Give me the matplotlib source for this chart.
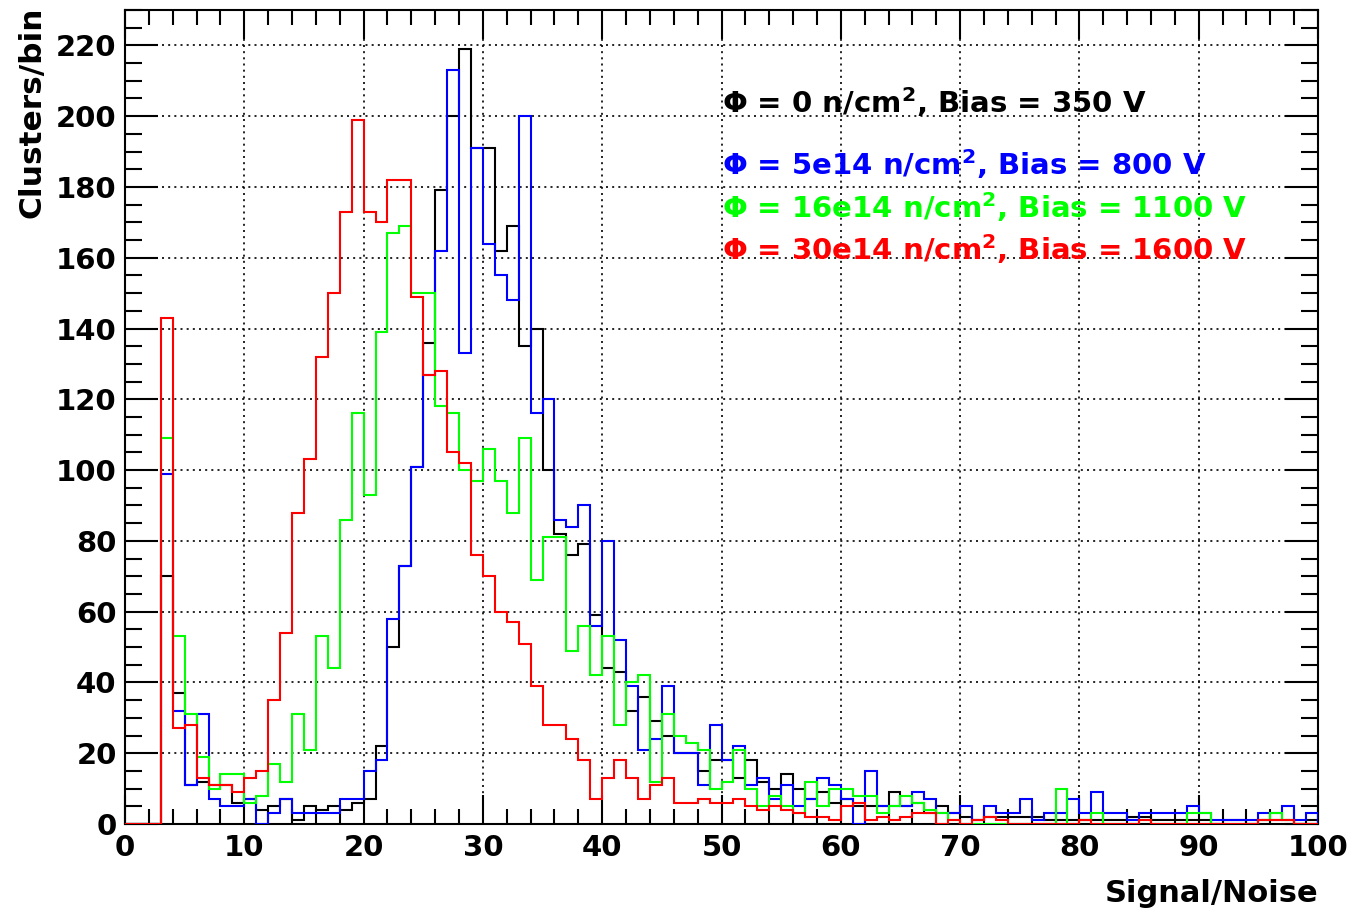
import numpy as np
import matplotlib
matplotlib.use('Agg')
import matplotlib.pyplot as plt
from matplotlib.ticker import MultipleLocator

plt.rcParams['font.family'] = ['DejaVu Sans']
plt.rcParams['font.weight'] = 'bold'
plt.rcParams['mathtext.default'] = 'regular'

# Signal/Noise bins, width 1 from 0 to 100
bin_edges = np.arange(0, 101, 1)

# clusters per bin
counts_0 = [0, 0, 0, 70, 37, 11, 12, 11, 11, 6,
            7, 4, 5, 7, 1, 5, 4, 5, 4, 6,
            7, 22, 50, 73, 101, 136, 179, 200, 219, 191,
            191, 162, 169, 135, 140, 100, 82, 76, 79, 59,
            44, 43, 32, 36, 29, 25, 20, 20, 15, 18,
            18, 13, 18, 12, 10, 14, 10, 7, 9, 6,
            7, 5, 5, 5, 9, 5, 6, 3, 5, 3,
            2, 1, 2, 2, 2, 2, 2, 1, 1, 1,
            1, 1, 1, 1, 2, 2, 1, 1, 1, 1,
            1, 0, 1, 1, 0, 1, 1, 1, 0, 1]
counts_5e14 = [0, 0, 0, 99, 32, 11, 31, 7, 5, 5,
               7, 0, 3, 7, 3, 3, 3, 3, 7, 7,
               15, 18, 58, 73, 101, 127, 162, 213, 133, 191,
               164, 155, 148, 200, 116, 120, 86, 84, 90, 56,
               80, 52, 39, 21, 24, 39, 20, 20, 11, 28,
               18, 22, 11, 13, 7, 11, 5, 7, 13, 11,
               7, 0, 15, 5, 5, 5, 9, 7, 3, 3,
               5, 1, 5, 3, 3, 7, 1, 3, 3, 7,
               3, 9, 3, 3, 1, 3, 3, 3, 3, 5,
               3, 1, 1, 1, 1, 3, 3, 5, 1, 3]
counts_16e14 = [0, 0, 0, 109, 53, 31, 19, 10, 14, 14,
                6, 8, 17, 12, 31, 21, 53, 44, 86, 116,
                93, 139, 167, 169, 150, 150, 118, 116, 100, 97,
                106, 97, 88, 109, 69, 81, 81, 49, 56, 42,
                53, 28, 40, 42, 12, 31, 25, 23, 21, 10,
                12, 21, 10, 5, 8, 5, 3, 12, 5, 10,
                10, 8, 8, 3, 5, 8, 6, 4, 3, 1,
                0, 0, 0, 0, 0, 0, 0, 0, 10, 0,
                1, 3, 0, 0, 0, 1, 0, 0, 0, 3,
                3, 0, 0, 0, 0, 1, 3, 1, 0, 0]
counts_30e14 = [0, 0, 0, 143, 27, 28, 13, 11, 11, 9,
                13, 15, 35, 54, 88, 103, 132, 150, 173, 199,
                173, 170, 182, 182, 149, 127, 128, 105, 102, 76,
                70, 60, 57, 51, 39, 28, 28, 24, 18, 7,
                13, 18, 13, 7, 11, 13, 6, 6, 7, 6,
                6, 7, 5, 4, 5, 4, 3, 2, 2, 1,
                5, 6, 1, 2, 1, 2, 3, 3, 0, 1,
                0, 1, 2, 1, 0, 0, 0, 0, 0, 0,
                1, 0, 0, 0, 0, 1, 0, 0, 0, 0,
                0, 0, 0, 0, 0, 1, 1, 1, 0, 0]

labels = ['Φ = 0 n/cm$^{2}$, Bias = 350 V',
          'Φ = 5e14 n/cm$^{2}$, Bias = 800 V',
          'Φ = 16e14 n/cm$^{2}$, Bias = 1100 V',
          'Φ = 30e14 n/cm$^{2}$, Bias = 1600 V']
colors = ['black', 'blue', '#00ff00', 'red']

W, H = 1355, 914
fig = plt.figure(figsize=(W / 100, H / 100), dpi=100)
ax = fig.add_axes([125 / W, 90 / H, 1193 / W, 814 / H])

for vals, col in zip([counts_0, counts_5e14, counts_16e14, counts_30e14], colors):
    ax.stairs(vals, bin_edges, baseline=0, color=col, lw=1.5, zorder=3)

ax.set_xlim(0, 100)
ax.set_ylim(0, 230)
ax.xaxis.set_major_locator(MultipleLocator(10))
ax.xaxis.set_minor_locator(MultipleLocator(2))
ax.yaxis.set_major_locator(MultipleLocator(20))
ax.yaxis.set_minor_locator(MultipleLocator(5))

ax.tick_params(which='both', direction='in', top=True, right=True,
               width=1.5, labelsize=21)
ax.tick_params(axis='x', which='major', length=21, pad=7)
ax.tick_params(axis='x', which='minor', length=11)
ax.tick_params(axis='y', which='major', length=24, pad=6)
ax.tick_params(axis='y', which='minor', length=12)
for s in ax.spines.values():
    s.set_linewidth(1.5)

ax.grid(True, which='major', color='black', lw=1.2, linestyle=(0, (1.2, 2.5)), zorder=1)

for i, (txt, col) in enumerate(zip(labels, colors)):
    yb = [113, 175, 218, 260][i]
    fig.text(722 / W, 1 - yb / H, txt, color=col, fontsize=21,
             ha='left', va='baseline')

fig.text(1318 / W, 1 - 893 / H, 'Signal/Noise', fontsize=22, ha='right', va='center')
fig.text(32 / W, 1 - 7 / H, 'Clusters/bin', fontsize=22.5, rotation=90,
         ha='center', va='top')

fig.savefig('out.png', dpi=100, facecolor='white')
